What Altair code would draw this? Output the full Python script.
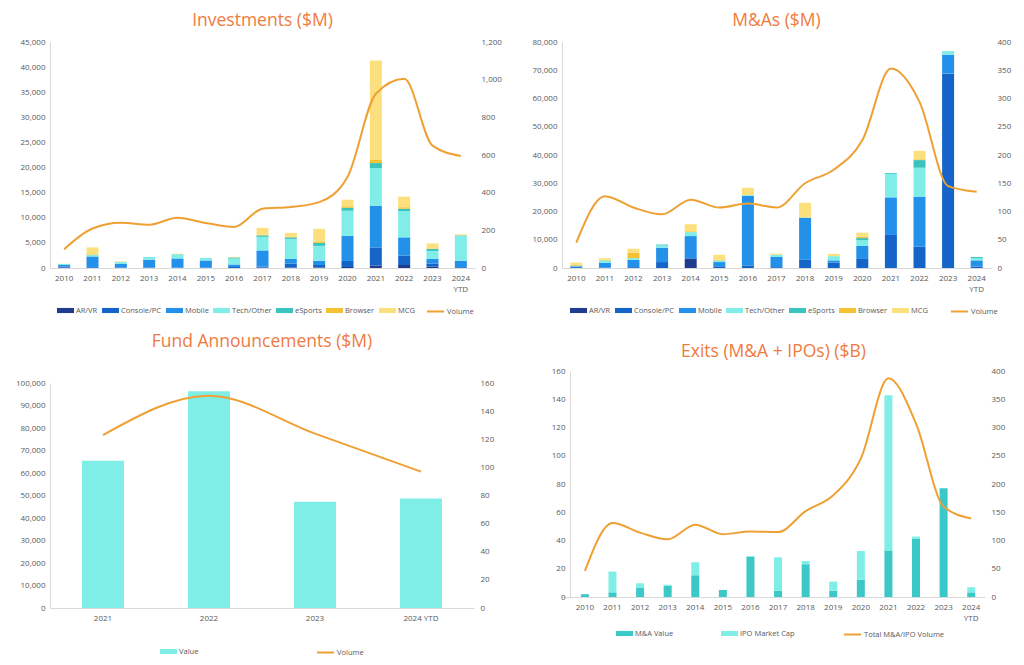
import altair as alt
import pandas as pd

years = ["2010", "2011", "2012", "2013", "2014", "2015", "2016", "2017",
         "2018", "2019", "2020", "2021", "2022", "2023", "2024 YTD"]

seg_names = ["AR/VR", "Console/PC", "Mobile", "Tech/Other", "eSports", "Browser", "MCG"]
seg_colors = ["#1F3C8F", "#1565C8", "#2391EA", "#80EDE8", "#3CC3BE", "#F5C234", "#FDE07E"]

# Investments ($M)
inv_arvr = [100, 0, 0, 0, 0, 0, 0, 100, 100, 100, 200, 500, 600, 300, 50]
inv_console = [200, 150, 100, 100, 100, 100, 200, 200, 800, 500, 1200, 3600, 1850, 600, 150]
inv_mobile = [300, 2150, 750, 1550, 1800, 1400, 500, 3200, 900, 850, 5000, 8300, 3650, 950, 1250]
inv_tech = [150, 250, 350, 500, 800, 500, 1200, 2700, 4000, 2950, 5000, 7500, 5250, 1550, 4950]
inv_esports = [50, 50, 0, 50, 50, 0, 200, 300, 300, 600, 600, 1000, 450, 400, 100]
inv_browser = [0, 100, 0, 0, 0, 0, 0, 100, 100, 200, 300, 600, 300, 100, 0]
inv_mcg = [50, 1400, 100, 0, 100, 0, 100, 1400, 800, 2600, 1300, 19800, 2100, 1000, 200]
inv_volume = [100, 210, 240, 230, 267, 239, 218, 315, 324, 350, 483, 925, 1005, 650, 595]

# M&As ($M)
ma_arvr = [0, 0, 0, 0, 3300, 0, 0, 0, 0, 0, 0, 0, 0, 0, 0]
ma_console = [300, 200, 300, 2100, 200, 600, 900, 300, 2900, 1900, 3200, 11700, 7550, 68800, 500]
ma_mobile = [300, 1600, 2600, 5100, 7800, 1500, 24600, 3600, 14800, 800, 4600, 13300, 17700, 6700, 2200]
ma_tech = [200, 900, 600, 800, 1400, 600, 300, 800, 200, 1500, 2100, 8300, 10250, 1300, 800]
ma_esports = [0, 0, 0, 300, 0, 0, 0, 0, 0, 0, 700, 300, 2700, 0, 400]
ma_browser = [400, 200, 1900, 0, 300, 300, 0, 0, 200, 0, 500, 0, 300, 0, 0]
ma_mcg = [700, 600, 1400, 0, 2500, 1700, 2600, 400, 5000, 800, 1400, 0, 3000, 0, 0]
ma_volume = [45, 127, 107, 95, 121, 107, 114, 107, 150, 174, 226, 353, 294, 145, 135]

# Fund Announcements ($M)
fund_years = ["2021", "2022", "2023", "2024 YTD"]
fund_value = [65500, 96300, 47200, 48700]
fund_volume = [123, 151, 124, 97]

# Exits ($B)
exit_ma = [2, 3.3, 6.6, 8, 15.4, 5, 28.6, 4.5, 23.2, 4.5, 12.3, 33, 41.4, 77, 3.3]
exit_ipo = [0, 14.7, 3.1, 0.7, 9.2, 0, 0.4, 23.6, 2.3, 6.4, 20.3, 109.8, 1.4, 0, 3.6]
exit_volume = [46, 131, 114, 102, 128, 111, 116, 115, 152, 180, 245, 387, 307, 160, 139]

ORANGE_LINE = "#EFA033"
TITLE_COLOR = "#EF7B40"
TEXT = "#595959"
AXIS_LINE = "#D9D9D9"
FONT = "Open Sans"
RECT = "M-1,-0.3L1,-0.3L1,0.3L-1,0.3Z"
FMT = "format(datum.value, ',')"


def long_bars(cats, series_names, arrays):
    rows = []
    for si, (name, arr) in enumerate(zip(series_names, arrays)):
        for c, v in zip(cats, arr):
            rows.append({"year": c, "series": name, "value": v, "ord": si})
    return pd.DataFrame(rows)


def panel(cats, bar_df, names, colors, line_vals, line_name, left_max, left_step,
          right_max, right_step, width, height, title, title_offset, bar_size,
          split_ytd, fill_legend_xy, stroke_legend_xy, fill_col_pad=4,
          x_scale=None, left_offset=0):
    label_expr = "split(datum.label, ' ')" if split_ytd else "datum.label"
    xs = x_scale if x_scale is not None else alt.Scale(domain=cats)
    x = alt.X("year:N", sort=cats, scale=xs,
              axis=alt.Axis(title=None, labelAngle=0, ticks=False, domainColor=AXIS_LINE,
                            labelColor=TEXT, labelFont=FONT, labelFontSize=8,
                            labelPadding=6, labelExpr=label_expr, labelLineHeight=11))
    bars = alt.Chart(bar_df).mark_bar(size=bar_size).encode(
        x=x,
        y=alt.Y("value:Q", stack="zero",
                scale=alt.Scale(domain=[0, left_max], nice=False),
                axis=alt.Axis(title=None, values=list(range(0, left_max + 1, left_step)),
                              labelExpr=FMT, ticks=False, grid=False, domainColor=AXIS_LINE,
                              labelColor=TEXT, labelFont=FONT, labelFontSize=8,
                              labelPadding=5, offset=left_offset)),
        fill=alt.Fill("series:N", scale=alt.Scale(domain=names, range=colors),
                      legend=alt.Legend(orient="none", legendX=fill_legend_xy[0],
                                        legendY=fill_legend_xy[1], direction="horizontal",
                                        title=None, symbolType=RECT, symbolSize=289,
                                        symbolStrokeWidth=0, labelFont=FONT,
                                        labelFontSize=7.5, labelColor=TEXT, labelOffset=2,
                                        columnPadding=fill_col_pad)),
        order=alt.Order("ord:Q", sort="ascending"),
    )
    line_df = pd.DataFrame({"year": cats, "vol": line_vals, "lname": [line_name] * len(cats)})
    line = alt.Chart(line_df).mark_line(interpolate="monotone", strokeWidth=2).encode(
        x=alt.X("year:N", sort=cats),
        y=alt.Y("vol:Q", scale=alt.Scale(domain=[0, right_max], nice=False),
                axis=alt.Axis(orient="right", title=None,
                              values=list(range(0, right_max + 1, right_step)),
                              labelExpr=FMT, ticks=False, grid=False, domain=False,
                              labelColor=TEXT, labelFont=FONT, labelFontSize=8,
                              labelPadding=6)),
        stroke=alt.Stroke("lname:N", scale=alt.Scale(domain=[line_name], range=[ORANGE_LINE]),
                          legend=alt.Legend(orient="none", legendX=stroke_legend_xy[0],
                                            legendY=stroke_legend_xy[1], title=None,
                                            symbolType="stroke", symbolSize=289,
                                            symbolStrokeWidth=2, labelFont=FONT,
                                            labelFontSize=7.5, labelColor=TEXT, labelOffset=2)),
    )
    return alt.layer(bars, line).resolve_scale(y="independent").properties(
        width=width, height=height,
        title=alt.Title(title, color=TITLE_COLOR, font=FONT, fontSize=17.5,
                        fontWeight="normal", offset=title_offset, anchor="middle"),
    )


inv_df = long_bars(years, seg_names, [inv_arvr, inv_console, inv_mobile, inv_tech,
                                       inv_esports, inv_browser, inv_mcg])
ma_df = long_bars(years, seg_names, [ma_arvr, ma_console, ma_mobile, ma_tech,
                                      ma_esports, ma_browser, ma_mcg])
fund_df = long_bars(fund_years, ["Value"], [fund_value])
exit_df = long_bars(years, ["M&A Value", "IPO Market Cap"], [exit_ma, exit_ipo])

tl = panel(years, inv_df, seg_names, seg_colors, inv_volume, "Volume", 45000, 5000,
           1200, 200, 425, 226, "Investments ($M)", 9, 12, True, (7, 260), (376, 260))
tr = panel(years, ma_df, seg_names, seg_colors, ma_volume, "Volume", 80000, 10000,
           400, 50, 429, 226, "M&As ($M)", 9, 12, True, (8, 260), (388, 260))
bl = panel(fund_years, fund_df, ["Value"], ["#7FEEE7"], fund_volume, "Volume", 100000, 10000,
           160, 20, 424, 225, "Fund Announcements ($M)", 29, 42, False, (110, 260), (266, 260))
br = panel(years, exit_df, ["M&A Value", "IPO Market Cap"], ["#3CC8C6", "#7FEEE7"],
           exit_volume, "Total M&A/IPO Volume", 160, 20, 400, 50, 423, 226,
           "Exits (M&A + IPOs) ($B)", 7, 8, True, (54, 254), (281, 254), fill_col_pad=47,
           x_scale=alt.Scale(domain=years, paddingInner=0, paddingOuter=0.165, align=1),
           left_offset=-8)

RES = dict(x="independent", y="independent", fill="independent", stroke="independent")
left_col = alt.vconcat(tl, bl, spacing=16).resolve_scale(**RES)
right_col = alt.vconcat(tr, br, spacing=26).resolve_scale(**RES)

chart = alt.hconcat(left_col, right_col, spacing=30).resolve_scale(**RES).properties(
    padding={"left": 7, "top": 3, "right": 5, "bottom": 5},
    background="white",
).configure_view(stroke=None)

chart.save("out.html", embed_options={"renderer": "svg", "actions": False})
